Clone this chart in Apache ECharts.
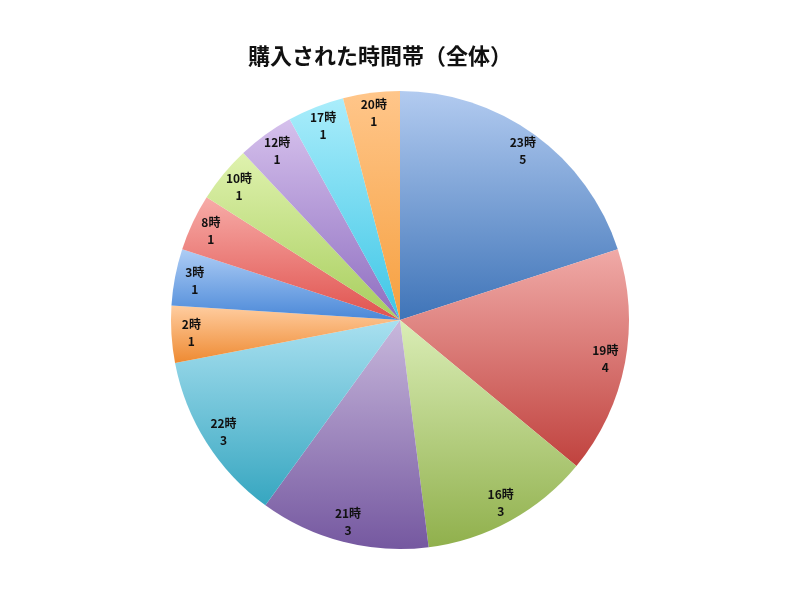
<!DOCTYPE html>
<html><head><meta charset="utf-8">
<script src="https://cdn.jsdelivr.net/npm/echarts@6/dist/echarts.min.js"></script>
<style>html,body{margin:0;padding:0;background:#fff}#c{width:800px;height:600px}</style>
</head><body><div id="c"></div>
<script>
const categories = ['23時','19時','16時','21時','22時','2時','3時','8時','10時','12時','17時','20時'];
const counts = [5,4,3,3,3,1,1,1,1,1,1,1];
const lightColors = ['#B2CBF0','#F0AAA7','#DAEDB6','#C8B8DC','#A9E0F0','#FFCDA0','#AECDF5','#F7ACA8','#DFF2AE','#D5C0EC','#AAEDFB','#FFC68A'];
const darkColors  = ['#3F74B8','#C0423E','#90B04C','#7558A0','#36A6C0','#EE8A32','#4A88D8','#E0524E','#A8CE5E','#8E6EC0','#3EC6E6','#F6A040'];

const chart = echarts.init(document.getElementById('c'));
const mainData = categories.map((n,i)=>({
  name:n, value:counts[i],
  itemStyle:{color:new echarts.graphic.LinearGradient(0,0,0,1,[{offset:0,color:lightColors[i]},{offset:1,color:darkColors[i]}])}
}));
const labelData = categories.map((n,i)=>({name:n, value:counts[i]}));
chart.setOption({
  animation:false,
  title:{text:'購入された時間帯（全体）',left:375,textAlign:'center',top:40,
    textStyle:{fontFamily:'Noto Sans CJK JP',fontWeight:'bold',fontSize:22,color:'#111'}},
  series:[
    {type:'pie',center:[400,320],radius:[0,229],startAngle:90,clockwise:true,
     data:mainData,label:{show:false},labelLine:{show:false},
     itemStyle:{borderWidth:0},emphasis:{disabled:true}},
    {type:'pie',center:[400,320],radius:[183,229],startAngle:90,clockwise:true,silent:true,
     data:labelData,itemStyle:{color:'rgba(0,0,0,0)',borderWidth:0},
     label:{show:true,position:'inside',formatter:'{b}\n{c}',
       fontFamily:'Noto Sans CJK JP',fontWeight:'bold',fontSize:12,color:'#111',lineHeight:17},
     labelLine:{show:false},emphasis:{disabled:true}}
  ]
});
</script></body></html>
